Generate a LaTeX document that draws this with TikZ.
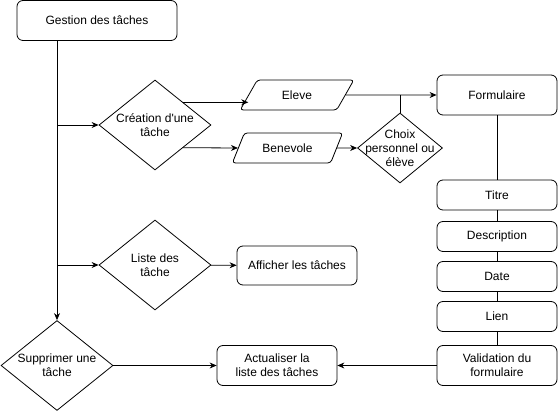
\documentclass[tikz,border=0pt]{standalone}
\usepackage{fontspec}
\setmainfont{Liberation Sans}[Ligatures=TeXOff]
\usetikzlibrary{shapes.geometric}
\usetikzlibrary{arrows.meta}

\begin{document}
\begin{tikzpicture}[x=1pt,y=-1pt,line width=0.8pt,
		every node/.style={font=\fontsize{12}{14}\selectfont, align=center},
		boite/.style={draw, rounded corners=6pt, minimum width=120pt, minimum height=40pt},
		champ/.style={boite, minimum height=30pt},
		decision/.style={draw, diamond, inner sep=0pt},
		saisie/.style={draw, trapezium, trapezium left angle=63, trapezium right angle=117,
			trapezium stretches=true, rounded corners=3pt, minimum height=30pt},
		fleche/.style={-{Stealth[length=7pt,width=6pt]}}]
			\useasboundingbox (0,0) rectangle (558,411);
			
			% colonne de gauche
			\node[boite, minimum width=160pt] (gestion) at (97,20.5) {Gestion des tâches};
			\node[decision, minimum width=112pt, minimum height=90pt,
				label={[align=center]center:Création d'une\\tâche}] (creation) at (155,125) {};
			\node[decision, minimum width=112pt, minimum height=90pt,
				label={[align=center]center:Liste des\\tâche}] (liste) at (155,265) {};
			\node[decision, minimum width=112pt, minimum height=90pt,
				label={[align=center]center:Supprimer une\\tâche}] (supprimer) at (57,365.5) {};
			
			% saisie du type de tache
			\node[saisie, minimum width=114pt] (eleve) at (297,95) {Eleve};
			\node[saisie, minimum width=111pt] (benevole) at (287.5,148) {Benevole};
			\node[decision, minimum width=85pt, minimum height=70pt,
				label={[align=center]center:Choix\\personnel ou\\élève}] (choix) at (400,148) {};
			
			% formulaire et ses champs
			\node[boite] (formulaire) at (497,95) {Formulaire};
			\node[champ] (titre) at (497,195) {Titre};
			\node[champ] (description) at (497,236.5) {Description};
			\node[champ] (date) at (497,276.5) {Date};
			\node[champ] (lien) at (497,316.5) {Lien};
			\node[boite] (validation) at (497,365.5) {Validation du\\formulaire};
			
			\node[boite, minimum height=39pt] (afficher) at (297,265.5) {Afficher les tâches};
			\node[boite] (actualiser) at (277,365.5) {Actualiser la\\liste des tâches};
			
			% connecteurs
			\draw[fleche] (gestion.south -| supprimer.north) -- (supprimer.north);
			\draw[fleche] (creation.west -| supprimer.north) -- (creation.west);
			\draw[fleche] (liste.west -| supprimer.north) -- (liste.west);
			\draw[fleche] (creation.north east) -- (creation.north east -| eleve.west);
			\draw[fleche] (creation.south east) -- (benevole.west);
			\draw[fleche] (benevole.east) -- (choix.west);
			\draw[fleche] (eleve.east) -- (formulaire.west);
			\draw (choix.north) -- (choix.north |- eleve.east);
			\draw (formulaire) -- (titre);
			\draw (titre) -- (description);
			\draw (description) -- (date);
			\draw (date) -- (lien);
			\draw (lien) -- (validation);
			\draw[fleche] (liste) -- (afficher);
			\draw[fleche] (supprimer) -- (actualiser);
			\draw[fleche] (validation) -- (actualiser);
		\end{tikzpicture}
\end{document}
